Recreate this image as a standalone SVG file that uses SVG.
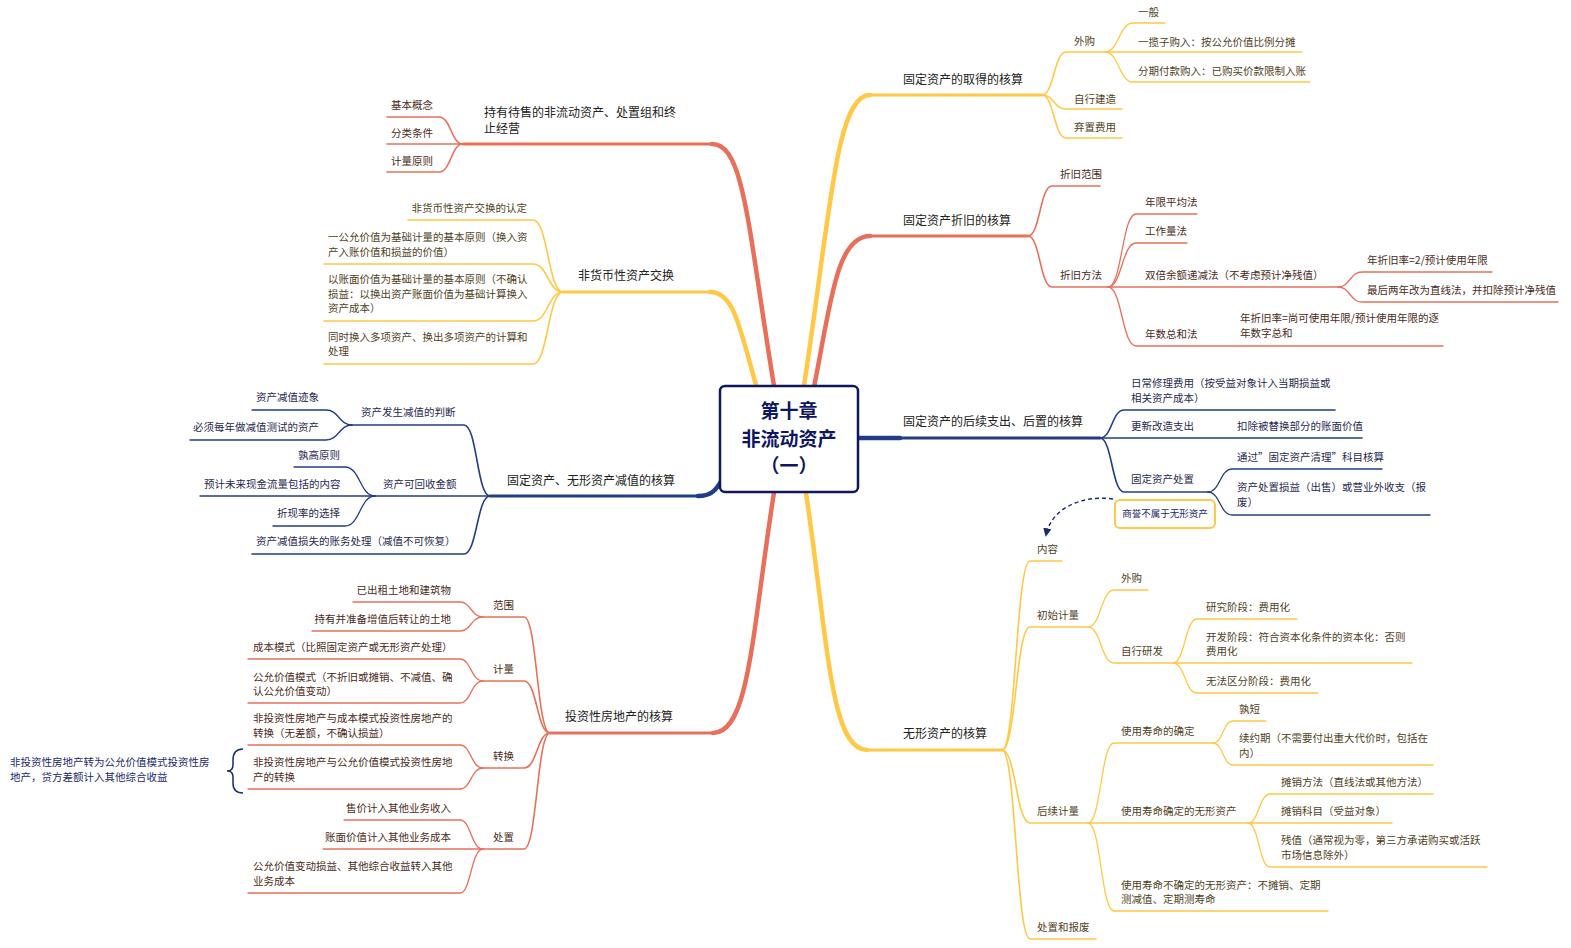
<svg xmlns="http://www.w3.org/2000/svg" width="1571" height="948" viewBox="0 0 1571 948">
<defs>
<style>
.c{fill:none;stroke-linecap:round;stroke-linejoin:round}
.r{stroke:#E8705A}.y{stroke:#FFC846}.n{stroke:#233C86}
.m1{stroke-width:4.5}.m2{stroke-width:3}.l1{stroke-width:1.6}.l2{stroke-width:1.3}
text{font-family:"Noto Sans CJK SC","Noto Sans",sans-serif;font-size:10.5px}
.tm{font-size:12px;fill:#222}
.ty{fill:#4f3f1c}.tr{fill:#4a2a20}.tn{fill:#1f2a4f}
.ctr{font-size:19px;font-weight:bold;fill:#0E1760}
</style>
<marker id="arr" viewBox="0 0 10 10" refX="8" refY="5" markerWidth="6" markerHeight="6" orient="auto-start-reverse">
<path d="M0,0 L10,5 L0,10 z" fill="#1B2A6B"/>
</marker>
</defs>
<rect width="1571" height="948" fill="#fff"/>
<g id="connectors">
<!-- main branches -->
<path class="c r m1" d="M775,392 C748,230 745,144 712,144"/>
<path class="c r m2" d="M712,144 L463,144"/>
<path class="c y m1" d="M758,392 C740,330 735,292 710,292"/>
<path class="c y m2" d="M710,292 L563,292"/>
<path class="c y m1" d="M803,392 C830,220 835,95 870,95"/>
<path class="c y m2" d="M870,95 L1042,95"/>
<path class="c r m1" d="M813,392 C830,310 835,236 870,236"/>
<path class="c r m2" d="M870,236 L1028,236"/>
<path class="c n m1" d="M850,438 L900,438"/>
<path class="c n m2" d="M900,438 L1100,438"/>
<path class="c n m1" d="M724,476 C716,492 710,496 698,496"/>
<path class="c n m2" d="M698,496 L490,496"/>
<path class="c r m1" d="M775,486 C752,630 750,733 713,733"/>
<path class="c r m2" d="M713,733 L550,733"/>
<path class="c y m1" d="M805,486 C828,640 830,750 867,750"/>
<path class="c y m2" d="M867,750 L1002,750"/>
<!-- R1 -->
<path class="c y l1" d="M1042,95 C1054,95 1054,52 1066,52 L1105,52"/>
<path class="c y l1" d="M1042,95 C1054,95 1054,109 1066,109 L1122,109"/>
<path class="c y l1" d="M1042,95 C1054,95 1054,138 1066,138 L1122,138"/>
<path class="c y l2" d="M1105,52 C1119,52 1119,23 1133,23 L1165,23"/>
<path class="c y l2" d="M1105,52 L1302,52"/>
<path class="c y l2" d="M1105,52 C1119,52 1119,82 1133,82 L1310,82"/>
<!-- R2 -->
<path class="c r l1" d="M1028,236 C1040,236 1040,186 1052,186 L1100,186"/>
<path class="c r l1" d="M1028,236 C1040,236 1040,287 1052,287 L1108,287"/>
<path class="c r l2" d="M1108,287 C1122,287 1122,214 1136,214 L1197,214"/>
<path class="c r l2" d="M1108,287 C1122,287 1122,243 1136,243 L1187,243"/>
<path class="c r l2" d="M1108,287 L1338,287"/>
<path class="c r l2" d="M1108,287 C1122,287 1122,346 1136,346 L1443,346"/>
<path class="c r l2" d="M1338,287 C1350,287 1350,272 1362,272 L1492,272"/>
<path class="c r l2" d="M1338,287 C1350,287 1350,302 1362,302 L1558,302"/>
<!-- R3 -->
<path class="c n l1" d="M1100,438 C1112,438 1112,410 1124,410 L1335,410"/>
<path class="c n l1" d="M1100,438 L1362,438"/>
<path class="c n l1" d="M1100,438 C1112,438 1112,492 1124,492 L1208,492"/>
<path class="c n l2" d="M1208,492 C1220,492 1220,469 1232,469 L1382,469"/>
<path class="c n l2" d="M1208,492 C1220,492 1220,515 1232,515 L1430,515"/>
<path fill="none" stroke="#1B2A6B" stroke-width="1.4" stroke-dasharray="4 3" marker-end="url(#arr)" d="M1113,499 C1085,495 1052,506 1046,535"/>
<!-- R4 -->
<path class="c y l1" d="M1002,750 C1016,750 1016,561 1030,561 L1062,561"/>
<path class="c y l1" d="M1002,750 C1016,750 1016,627 1030,627 L1088,627"/>
<path class="c y l1" d="M1002,750 C1016,750 1016,823 1030,823 L1088,823"/>
<path class="c y l1" d="M1002,750 C1016,750 1016,939 1030,939 L1096,939"/>
<path class="c y l2" d="M1088,627 C1101,627 1101,590 1114,590 L1148,590"/>
<path class="c y l2" d="M1088,627 C1101,627 1101,663 1114,663 L1173,663"/>
<path class="c y l2" d="M1173,663 C1185,663 1185,619 1197,619 L1297,619"/>
<path class="c y l2" d="M1173,663 L1412,663"/>
<path class="c y l2" d="M1173,663 C1185,663 1185,693 1197,693 L1318,693"/>
<path class="c y l2" d="M1088,823 C1101,823 1101,743 1114,743 L1213,743"/>
<path class="c y l2" d="M1088,823 L1248,823"/>
<path class="c y l2" d="M1088,823 C1101,823 1101,911 1114,911 L1328,911"/>
<path class="c y l2" d="M1213,743 C1223,743 1223,721 1233,721 L1266,721"/>
<path class="c y l2" d="M1213,743 C1223,743 1223,765 1233,765 L1433,765"/>
<path class="c y l2" d="M1248,823 C1259,823 1259,794 1270,794 L1433,794"/>
<path class="c y l2" d="M1248,823 L1392,823"/>
<path class="c y l2" d="M1248,823 C1259,823 1259,867 1270,867 L1487,867"/>
<!-- L1 -->
<path class="c r l1" d="M463,144 C451,144 451,117 439,117 L387,117"/>
<path class="c r l1" d="M463,144 L387,144"/>
<path class="c r l1" d="M463,144 C451,144 451,172 439,172 L387,172"/>
<!-- L2 -->
<path class="c y l1" d="M563,292 C548,292 548,220 533,220 L408,220"/>
<path class="c y l1" d="M563,292 C548,292 548,264 533,264 L324,264"/>
<path class="c y l1" d="M563,292 C548,292 548,321 533,321 L324,321"/>
<path class="c y l1" d="M563,292 C548,292 548,364 533,364 L324,364"/>
<!-- L3 -->
<path class="c n l1" d="M490,496 C477,496 477,425 464,425 L352,425"/>
<path class="c n l1" d="M490,496 L375,496"/>
<path class="c n l1" d="M490,496 C477,496 477,554 464,554 L252,554"/>
<path class="c n l2" d="M352,425 C339,425 339,410 326,410 L252,410"/>
<path class="c n l2" d="M352,425 C339,425 339,440 326,440 L190,440"/>
<path class="c n l2" d="M375,496 C360,496 360,467 345,467 L294,467"/>
<path class="c n l2" d="M375,496 L200,496"/>
<path class="c n l2" d="M375,496 C360,496 360,526 345,526 L273,526"/>
<!-- L4 -->
<path class="c r l1" d="M550,733 C537,733 537,617 524,617 L483,617"/>
<path class="c r l1" d="M550,733 C537,733 537,681 524,681 L483,681"/>
<path class="c r l1" d="M550,733 C537,733 537,768 524,768 L483,768"/>
<path class="c r l1" d="M550,733 C537,733 537,849 524,849 L483,849"/>
<path class="c r l2" d="M483,617 C471,617 471,602 460,602 L353,602"/>
<path class="c r l2" d="M483,617 C471,617 471,631 460,631 L312,631"/>
<path class="c r l2" d="M483,681 C471,681 471,659 460,659 L248,659"/>
<path class="c r l2" d="M483,681 C471,681 471,703 460,703 L248,703"/>
<path class="c r l2" d="M483,768 C471,768 471,745 460,745 L248,745"/>
<path class="c r l2" d="M483,768 C471,768 471,789 460,789 L248,789"/>
<path class="c r l2" d="M483,849 C471,849 471,820 460,820 L344,820"/>
<path class="c r l2" d="M483,849 L323,849"/>
<path class="c r l2" d="M483,849 C471,849 471,893 460,893 L248,893"/>
<!-- brace -->
<path fill="none" stroke="#1B2A6B" stroke-width="1.5" d="M243,749 C236,749 233,753 233,760 L233,765 C233,769 231,771 227,771 C231,771 233,773 233,777 L233,783 C233,789 236,793 243,793"/>
</g>

<g id="center">
<rect x="720" y="386" width="138" height="106" rx="5" fill="#fff" stroke="#0E1760" stroke-width="2.5"/>
<text class="ctr" x="789" y="418" text-anchor="middle">第十章</text>
<text class="ctr" x="789" y="446" text-anchor="middle">非流动资产</text>
<text class="ctr" x="789" y="473" text-anchor="middle">（一）</text>
</g>

<g id="n-qude">
<text class="tm" x="903" y="84">固定资产的取得的核算</text>
<text class="ty" x="1074" y="45">外购</text>
<text class="ty" x="1138" y="16">一般</text>
<text class="ty" x="1138" y="46">一揽子购入：按公允价值比例分摊</text>
<text class="ty" x="1138" y="75">分期付款购入：已购买价款限制入账</text>
<text class="ty" x="1074" y="103">自行建造</text>
<text class="ty" x="1074" y="131">弃置费用</text>
</g>

<g id="n-zhejiu">
<text class="tm" x="903" y="225">固定资产折旧的核算</text>
<text class="tr" x="1060" y="178">折旧范围</text>
<text class="tr" x="1060" y="279">折旧方法</text>
<text class="tr" x="1145" y="206">年限平均法</text>
<text class="tr" x="1145" y="235">工作量法</text>
<text class="tr" x="1145" y="279">双倍余额递减法（不考虑预计净残值）</text>
<text class="tr" x="1367" y="264">年折旧率=2/预计使用年限</text>
<text class="tr" x="1367" y="294">最后两年改为直线法，并扣除预计净残值</text>
<text class="tr" x="1145" y="338">年数总和法</text>
<text class="tr" x="1240" y="322">年折旧率=尚可使用年限/预计使用年限的逐</text>
<text class="tr" x="1240" y="337">年数字总和</text>
</g>

<g id="n-houxu">
<text class="tm" x="903" y="426">固定资产的后续支出、后置的核算</text>
<text class="tn" x="1131" y="387">日常修理费用（按受益对象计入当期损益或</text>
<text class="tn" x="1131" y="402">相关资产成本）</text>
<text class="tn" x="1131" y="430">更新改造支出</text>
<text class="tn" x="1237" y="430">扣除被替换部分的账面价值</text>
<text class="tn" x="1131" y="483">固定资产处置</text>
<text class="tn" x="1237" y="461">通过”固定资产清理”科目核算</text>
<text class="tn" x="1237" y="491">资产处置损益（出售）或营业外收支（报</text>
<text class="tn" x="1237" y="506">废）</text>
</g>

<g id="n-callout">
<rect x="1115" y="500" width="100" height="28" rx="5" fill="#fff" stroke="#FFC846" stroke-width="2"/>
<text x="1165" y="517" text-anchor="middle" style="font-size:9.5px;fill:#1B2A6B">商誉不属于无形资产</text>
</g>

<g id="n-wuxing">
<text class="tm" x="903" y="738">无形资产的核算</text>
<text class="ty" x="1037" y="553">内容</text>
<text class="ty" x="1037" y="619">初始计量</text>
<text class="ty" x="1121" y="582">外购</text>
<text class="ty" x="1121" y="655">自行研发</text>
<text class="ty" x="1206" y="611">研究阶段：费用化</text>
<text class="ty" x="1206" y="641">开发阶段：符合资本化条件的资本化：否则</text>
<text class="ty" x="1206" y="655">费用化</text>
<text class="ty" x="1206" y="685">无法区分阶段：费用化</text>
<text class="ty" x="1037" y="815">后续计量</text>
<text class="ty" x="1121" y="735">使用寿命的确定</text>
<text class="ty" x="1239" y="713">孰短</text>
<text class="ty" x="1239" y="742">续约期（不需要付出重大代价时，包括在</text>
<text class="ty" x="1239" y="757">内）</text>
<text class="ty" x="1121" y="815">使用寿命确定的无形资产</text>
<text class="ty" x="1281" y="786">摊销方法（直线法或其他方法）</text>
<text class="ty" x="1281" y="815">摊销科目（受益对象）</text>
<text class="ty" x="1281" y="844">残值（通常视为零，第三方承诺购买或活跃</text>
<text class="ty" x="1281" y="859">市场信息除外）</text>
<text class="ty" x="1121" y="889">使用寿命不确定的无形资产：不摊销、定期</text>
<text class="ty" x="1121" y="903">测减值、定期测寿命</text>
<text class="ty" x="1037" y="931">处置和报废</text>
</g>

<g id="n-daishou">
<text class="tm" x="484" y="117">持有待售的非流动资产、处置组和终</text>
<text class="tm" x="484" y="133">止经营</text>
<text class="tr" x="391" y="109">基本概念</text>
<text class="tr" x="391" y="137">分类条件</text>
<text class="tr" x="391" y="165">计量原则</text>
</g>

<g id="n-feihuobi">
<text class="tm" x="578" y="280">非货币性资产交换</text>
<text class="ty" x="527" y="212" text-anchor="end">非货币性资产交换的认定</text>
<text class="ty" x="328" y="241">一公允价值为基础计量的基本原则（换入资</text>
<text class="ty" x="328" y="256">产入账价值和损益的价值）</text>
<text class="ty" x="328" y="283">以账面价值为基础计量的基本原则（不确认</text>
<text class="ty" x="328" y="298">损益：以换出资产账面价值为基础计算换入</text>
<text class="ty" x="328" y="312">资产成本）</text>
<text class="ty" x="328" y="341">同时换入多项资产、换出多项资产的计算和</text>
<text class="ty" x="328" y="355">处理</text>
</g>

<g id="n-jianzhi">
<text class="tm" x="507" y="485">固定资产、无形资产减值的核算</text>
<text class="tn" x="361" y="416">资产发生减值的判断</text>
<text class="tn" x="256" y="401">资产减值迹象</text>
<text class="tn" x="193" y="431">必须每年做减值测试的资产</text>
<text class="tn" x="383" y="488">资产可回收金额</text>
<text class="tn" x="298" y="459">孰高原则</text>
<text class="tn" x="204" y="488">预计未来现金流量包括的内容</text>
<text class="tn" x="277" y="517">折现率的选择</text>
<text class="tn" x="256" y="545">资产减值损失的账务处理（减值不可恢复）</text>
</g>

<g id="n-touzi">
<text class="tm" x="565" y="721">投资性房地产的核算</text>
<text class="tr" x="493" y="609">范围</text>
<text class="tr" x="451" y="594" text-anchor="end">已出租土地和建筑物</text>
<text class="tr" x="451" y="623" text-anchor="end">持有并准备增值后转让的土地</text>
<text class="tr" x="493" y="673">计量</text>
<text class="tr" x="253" y="651">成本模式（比照固定资产或无形资产处理）</text>
<text class="tr" x="253" y="681">公允价值模式（不折旧或摊销、不减值、确</text>
<text class="tr" x="253" y="695">认公允价值变动）</text>
<text class="tr" x="493" y="760">转换</text>
<text class="tr" x="253" y="722">非投资性房地产与成本模式投资性房地产的</text>
<text class="tr" x="253" y="737">转换（无差额，不确认损益）</text>
<text class="tr" x="253" y="766">非投资性房地产与公允价值模式投资性房地</text>
<text class="tr" x="253" y="781">产的转换</text>
<text class="tr" x="493" y="841">处置</text>
<text class="tr" x="451" y="812" text-anchor="end">售价计入其他业务收入</text>
<text class="tr" x="451" y="841" text-anchor="end">账面价值计入其他业务成本</text>
<text class="tr" x="253" y="870">公允价值变动损益、其他综合收益转入其他</text>
<text class="tr" x="253" y="885">业务成本</text>
</g>

<g id="n-brace-note">
<text x="10" y="766" style="fill:#1B2A6B">非投资性房地产转为公允价值模式投资性房</text>
<text x="10" y="781" style="fill:#1B2A6B">地产，贷方差额计入其他综合收益</text>
</g>
</svg>
